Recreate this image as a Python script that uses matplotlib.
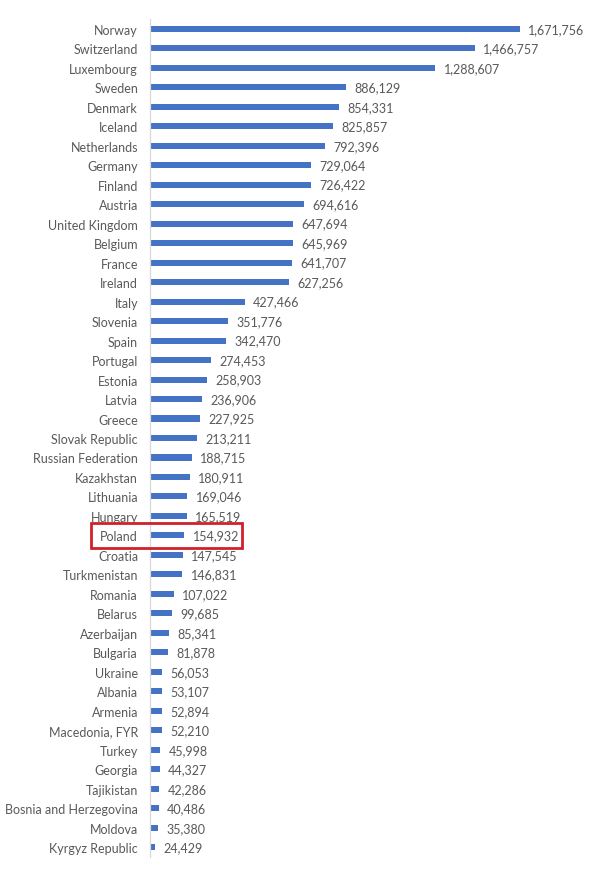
import matplotlib
matplotlib.use("Agg")
import matplotlib.pyplot as plt
from matplotlib.patches import Rectangle
import matplotlib.transforms as mtransforms

countries = ["Norway", "Switzerland", "Luxembourg", "Sweden", "Denmark", "Iceland",
             "Netherlands", "Germany", "Finland", "Austria", "United Kingdom", "Belgium",
             "France", "Ireland", "Italy", "Slovenia", "Spain", "Portugal", "Estonia",
             "Latvia", "Greece", "Slovak Republic", "Russian Federation", "Kazakhstan",
             "Lithuania", "Hungary", "Poland", "Croatia", "Turkmenistan", "Romania",
             "Belarus", "Azerbaijan", "Bulgaria", "Ukraine", "Albania", "Armenia",
             "Macedonia, FYR", "Turkey", "Georgia", "Tajikistan", "Bosnia and Herzegovina",
             "Moldova", "Kyrgyz Republic"]
values = [1671756, 1466757, 1288607, 886129, 854331, 825857, 792396, 729064, 726422,
          694616, 647694, 645969, 641707, 627256, 427466, 351776, 342470, 274453,
          258903, 236906, 227925, 213211, 188715, 180911, 169046, 165519, 154932,
          147545, 146831, 107022, 99685, 85341, 81878, 56053, 53107, 52894, 52210,
          45998, 44327, 42286, 40486, 35380, 24429]
highlight = "Poland"

plt.rcParams['font.family'] = ['Lato', 'DejaVu Sans']
W, H = 594, 870
fig = plt.figure(figsize=(W / 100, H / 100), dpi=100)
left = 150 / W
right = 592.6 / W
top = 1 - 20 / H
bottom = 1 - 858 / H
ax = fig.add_axes([left, bottom, right - left, top - bottom])

ypos = list(range(len(countries)))
ax.barh(ypos, values, height=0.31, color="#4472C4")
ax.set_xlim(0, 2000000)
ax.set_ylim(len(countries) - 0.5, -0.5)
ax.set_yticks(ypos)
ax.set_yticklabels(countries, fontsize=9, color="#595959")
ax.tick_params(axis='y', length=0, pad=8.6)
ax.set_xticks([])
for s in ["top", "right", "bottom"]:
    ax.spines[s].set_visible(False)
ax.spines["left"].set_color("#D9D9D9")
ax.spines["left"].set_linewidth(0.9)

for y, v in zip(ypos, values):
    ax.annotate(f"{v:,}", xy=(v, y), xytext=(6, 0), textcoords="offset points",
                va="center", ha="left", fontsize=9, color="#595959")

# highlight box
idx = countries.index(highlight)
blend = mtransforms.blended_transform_factory(fig.transFigure, ax.transData)
x0 = 91 / W
x1 = 242 / W
rect = Rectangle((x0, idx - 0.63), x1 - x0, 1.26, transform=blend, fill=False,
                 edgecolor="#D0202A", linewidth=2.0, clip_on=False)
fig.add_artist(rect)

fig.savefig("out.png", dpi=100, facecolor="white")
